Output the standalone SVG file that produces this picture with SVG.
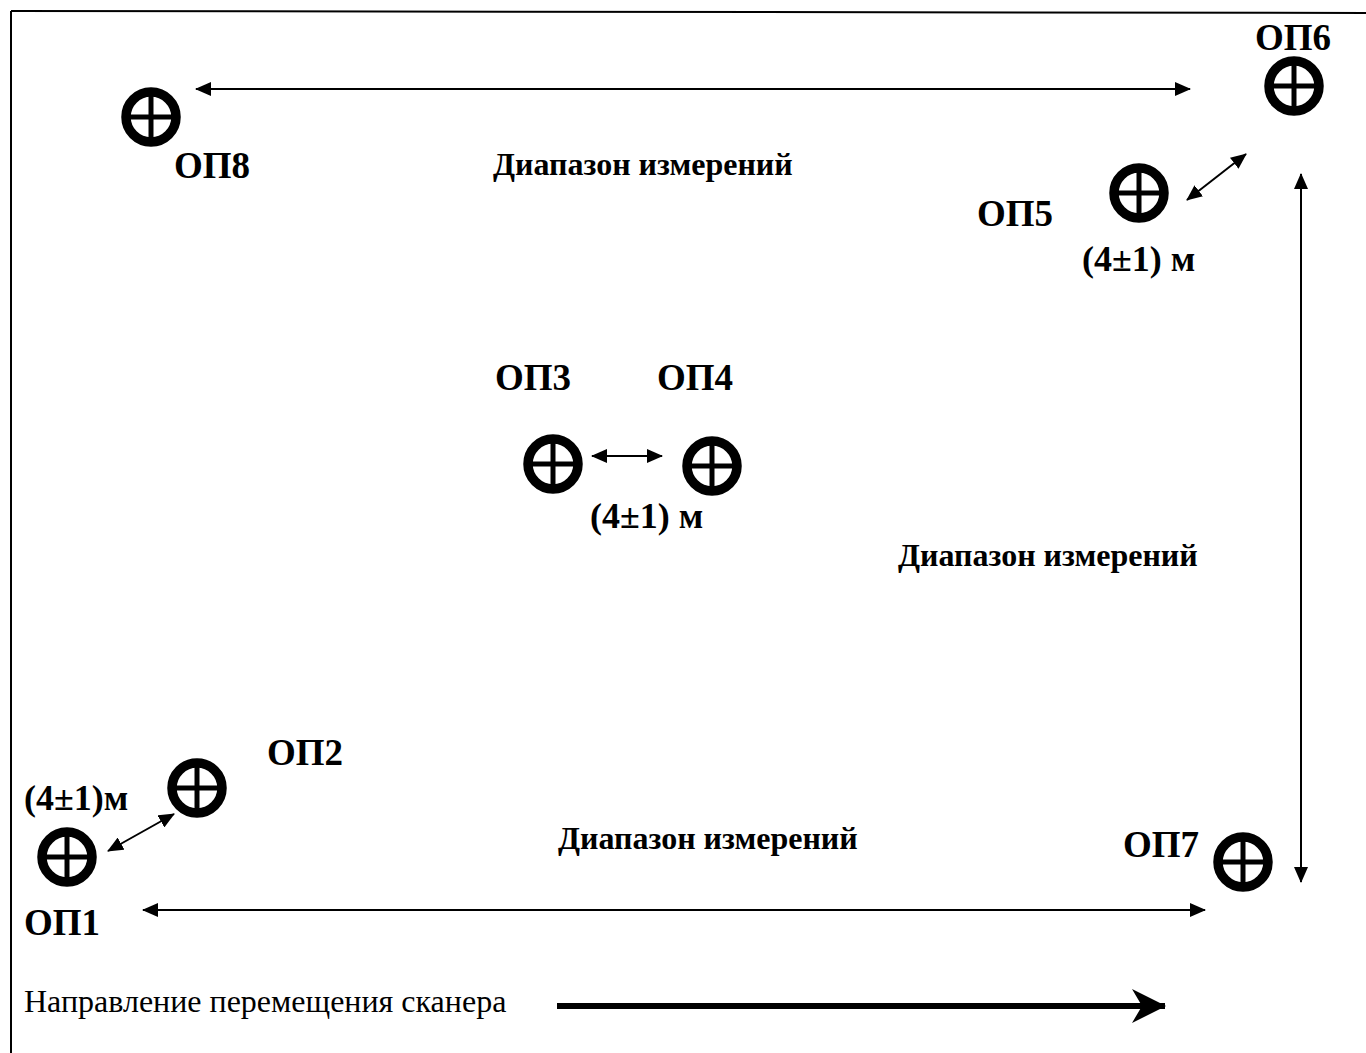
<svg xmlns="http://www.w3.org/2000/svg" width="1366" height="1053" viewBox="0 0 1366 1053">
<defs>
<style>
.lbl{font-family:"Liberation Serif","Times New Roman",serif;font-weight:bold;font-size:37px;fill:#000}
.rng{font-family:"Liberation Serif","Times New Roman",serif;font-weight:bold;font-size:32px;fill:#000}
.dist{font-family:"Liberation Serif","Times New Roman",serif;font-weight:bold;font-size:36px;fill:#000}
.note{font-family:"Liberation Serif","Times New Roman",serif;font-size:32px;fill:#000}
.ring{fill:none;stroke:#000;stroke-width:9.5}
.cross{stroke:#000;stroke-width:5}
.conn{stroke:#000;stroke-width:2;fill:none}
</style>
<marker id="ah" viewBox="0 0 16 14" refX="15" refY="7" markerWidth="16" markerHeight="14" markerUnits="userSpaceOnUse" orient="auto-start-reverse">
<path d="M0,0 L16,7 L0,14 Z" fill="#000"/>
</marker>
<marker id="bigah" viewBox="0 0 34 34" refX="33" refY="17" markerWidth="34" markerHeight="34" markerUnits="userSpaceOnUse" orient="auto">
<path d="M0,0 L34,17 L0,34 L10,17 Z" fill="#000"/>
</marker>
<g id="target">
<circle cx="0" cy="0" r="25" class="ring"/>
<line x1="-26" y1="0" x2="26" y2="0" class="cross"/>
<line x1="0" y1="-26" x2="0" y2="26" class="cross"/>
</g>
</defs>
<rect width="1366" height="1053" fill="#fff"/>
<g id="frame">
<line x1="11" y1="11" x2="1366" y2="13" stroke="#000" stroke-width="2"/>
<line x1="11" y1="11" x2="11" y2="1053" stroke="#000" stroke-width="2"/>
</g>
<g id="op1"><use href="#target" x="67" y="857"/><text class="lbl" x="24" y="935">ОП1</text></g>
<g id="op2"><use href="#target" x="197" y="788"/><text class="lbl" x="267" y="765">ОП2</text></g>
<g id="op3"><use href="#target" x="553" y="464"/><text class="lbl" x="495" y="390">ОП3</text></g>
<g id="op4"><use href="#target" x="712" y="466"/><text class="lbl" x="657" y="390">ОП4</text></g>
<g id="op5"><use href="#target" x="1139" y="193"/><text class="lbl" x="977" y="226">ОП5</text></g>
<g id="op6"><use href="#target" x="1294" y="86"/><text class="lbl" x="1255" y="50">ОП6</text></g>
<g id="op7"><use href="#target" x="1243" y="862"/><text class="lbl" x="1123" y="857">ОП7</text></g>
<g id="op8"><use href="#target" x="151" y="117"/><text class="lbl" x="174" y="178">ОП8</text></g>
<g id="connectors">
<line x1="196" y1="89" x2="1190" y2="89" class="conn" marker-start="url(#ah)" marker-end="url(#ah)"/>
<line x1="1187" y1="200" x2="1246" y2="154" class="conn" marker-start="url(#ah)" marker-end="url(#ah)"/>
<line x1="1301" y1="174" x2="1301" y2="882" class="conn" marker-start="url(#ah)" marker-end="url(#ah)"/>
<line x1="592" y1="456" x2="662" y2="456" class="conn" marker-start="url(#ah)" marker-end="url(#ah)"/>
<line x1="108" y1="851" x2="174" y2="814" class="conn" marker-start="url(#ah)" marker-end="url(#ah)"/>
<line x1="143" y1="910" x2="1205" y2="910" class="conn" marker-start="url(#ah)" marker-end="url(#ah)"/>
<line x1="557" y1="1006" x2="1165" y2="1006" stroke="#000" stroke-width="6" marker-end="url(#bigah)"/>
</g>
<g id="labels">
<text class="rng" x="493" y="175">Диапазон измерений</text>
<text class="rng" x="898" y="566">Диапазон измерений</text>
<text class="rng" x="558" y="849">Диапазон измерений</text>
<text class="dist" x="1082" y="271">(4±1) м</text>
<text class="dist" x="590" y="528">(4±1) м</text>
<text class="dist" x="24" y="810">(4±1)м</text>
<text class="note" x="24" y="1012">Направление перемещения сканера</text>
</g>
</svg>
